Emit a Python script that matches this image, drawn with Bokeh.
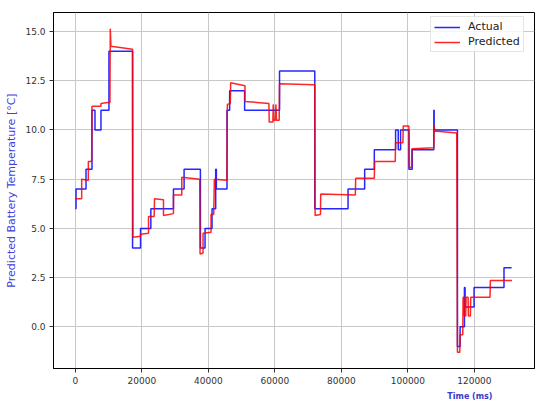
from bokeh.plotting import figure
from bokeh.models import Range1d, FixedTicker, PrintfTickFormatter, Legend, LegendItem, Title
from bokeh.embed import file_html
from bokeh.resources import INLINE

# Actual temperature: step change times (ms) and values (°C)
actual_t = [0, 200, 3200, 5000, 5900, 7700, 10100, 17200, 19600, 22700, 29500, 32700,
            37600, 39000, 41100, 42200, 42400, 45600, 46400, 50900, 61400, 72000, 82000,
            87000, 89900, 96300, 97100, 97800, 100300, 101300, 107800, 107900, 114900,
            115700, 117000, 117200, 119900, 128900, 131200]
actual_v = [6.0, 7.0, 8.0, 11.0, 10.0, 11.0, 14.0, 4.0, 5.0, 6.0, 7.0, 8.0,
            4.0, 5.0, 6.0, 8.0, 7.0, 11.0, 12.0, 11.0, 13.0, 6.0, 7.0,
            8.0, 9.0, 10.0, 9.0, 10.0, 8.0, 9.0, 11.0, 10.0, -1.0,
            0.0, 2.0, 1.0, 2.0, 3.0, 3.0]

# Predicted temperature samples (ms, °C)
pred_t = [0, 1900, 1900, 3900, 3900, 4900, 5000, 7700, 7700, 9700, 10400, 10500, 10700,
          17200, 17300, 19600, 19600, 22000, 22000, 23700, 23800, 26500, 26500, 29500,
          29500, 32000, 32000, 37400, 37500, 38400, 38400, 40800, 40800, 41600, 41800,
          45600, 45700, 46600, 46700, 51000, 51000, 58200, 58300, 59400, 59500, 59700,
          60200, 60300, 60500, 61300, 61400, 72000, 72100, 73700, 73800, 84200, 84300,
          89900, 90000, 96200, 96300, 98500, 98600, 100300, 100400, 101100, 101200,
          107800, 107900, 108100, 114700, 114900, 115600, 115700, 116500, 116600, 116900,
          117000, 117400, 117500, 118100, 118200, 118800, 118900, 124700, 124800, 131300]
pred_v = [6.5, 6.5, 7.5, 7.45, 8.4, 8.4, 11.2, 11.2, 11.35, 11.4, 11.4, 15.15, 14.25,
          14.1, 4.55, 4.6, 4.7, 4.75, 5.6, 5.6, 6.5, 6.45, 5.65, 5.75,
          6.7, 6.7, 7.6, 7.5, 3.7, 3.75, 4.75, 4.8, 5.7, 5.7, 7.5,
          7.45, 11.3, 11.35, 12.4, 12.25, 11.45, 11.35, 10.4, 10.4, 11.3, 10.5,
          10.5, 11.3, 10.5, 10.5, 12.35, 12.3, 5.65, 5.7, 6.75, 6.7, 7.55,
          7.55, 8.4, 8.4, 9.35, 9.35, 10.2, 10.2, 8.1, 8.1, 9.05,
          9.1, 10.2, 9.95, 9.85, -1.3, -1.3, -0.4, -0.4, 1.5, 1.5,
          0.55, 0.55, 1.5, 1.5, 0.55, 0.55, 1.5, 1.5, 2.35, 2.35]

x_ticks = [0, 20000, 40000, 60000, 80000, 100000, 120000]
y_ticks = [0.0, 2.5, 5.0, 7.5, 10.0, 12.5, 15.0]

FONT = "DejaVu Sans"

p = figure(frame_width=481, frame_height=356, output_backend="svg", toolbar_location=None,
           x_range=Range1d(-6575, 138075), y_range=Range1d(-2.12, 15.97),
           min_border_left=53, min_border_right=2, min_border_top=12, min_border_bottom=36)
p.background_fill_color = "white"
p.border_fill_color = "white"
p.outline_line_color = "black"
p.outline_line_width = 1

r1 = p.step(actual_t, actual_v, mode="after", line_color="#0000ff", line_width=1.5, line_alpha=0.85)
r2 = p.line(pred_t, pred_v, line_color="#ff0000", line_width=1.5, line_alpha=0.85)

p.xaxis.ticker = FixedTicker(ticks=x_ticks)
p.yaxis.ticker = FixedTicker(ticks=y_ticks)
p.xaxis.formatter = PrintfTickFormatter(format="%d")
p.yaxis.formatter = PrintfTickFormatter(format="%.1f")

for ax in (p.xaxis, p.yaxis):
    ax.major_label_text_font = FONT
    ax.major_label_text_font_size = "9px"
    ax.major_label_text_color = "#333333"
    ax.major_tick_out = 4
    ax.major_tick_in = 0
    ax.minor_tick_out = 0
    ax.minor_tick_in = 0
    ax.axis_line_color = "black"
    ax.major_tick_line_color = "#333333"
    ax.major_label_standoff = 4

p.yaxis.axis_label = "Predicted Battery Temperature [°C]"
p.yaxis.axis_label_text_font = FONT
p.yaxis.axis_label_text_font_size = "11px"
p.yaxis.axis_label_text_font_style = "normal"
p.yaxis.axis_label_text_color = "#4040e0"
p.yaxis.axis_label_standoff = 4

p.grid.grid_line_color = "#c8c8c8"
p.grid.grid_line_width = 1

xt = Title(text="Time (ms)", align="right", offset=42, text_font=FONT,
           text_font_size="8px", text_font_style="bold", text_color="#3a3acc", standoff=6)
p.add_layout(xt, "below")

legend = Legend(items=[LegendItem(label="Actual", renderers=[r1]),
                       LegendItem(label="Predicted", renderers=[r2])],
                location=(377, 316), orientation="vertical",
                label_text_font=FONT, label_text_font_size="11px", label_text_color="#222222",
                glyph_width=26, glyph_height=12, label_height=12, label_standoff=8,
                spacing=2, padding=3, margin=0,
                border_line_color="#cccccc", border_line_width=1,
                background_fill_color="white", background_fill_alpha=0.8)
p.add_layout(legend)

open("out.html", "w").write(file_html(p, INLINE))
